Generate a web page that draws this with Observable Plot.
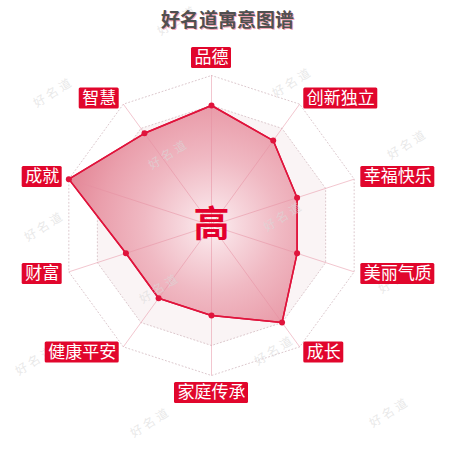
<!DOCTYPE html>
<html><head><meta charset="utf-8">
<script src="https://cdn.jsdelivr.net/npm/d3@7"></script>
<script src="https://cdn.jsdelivr.net/npm/@observablehq/plot@0.6"></script>
<style>
body{margin:0;background:#fff;}
#chart svg{display:block;font-family:"Noto Sans CJK SC","Noto Sans",sans-serif;}
</style>
</head><body><div id="chart"></div>
<script>
const title = "好名道寓意图谱";
const dimensions = ["品德","创新独立","幸福快乐","美丽气质","成长","家庭传承","健康平安","财富","成就","智慧"];
const scores = [80,70,60,60,80,60,60,60,100,76];
const levels = [20,40,60,80,100];
const maxScore = 100;
const grade = "高";
const watermark = "好名道";

const W = 450, H = 450, U = 150;           // pixels per unit radius
const CX = 211, CY = 225;                  // chart centre in pixels
const n = dimensions.length;
const ang = i => 2 * Math.PI * i / n;
const px = (i, v) => Math.sin(ang(i)) * v / maxScore;
const py = (i, v) => Math.cos(ang(i)) * v / maxScore;

const area = dimensions.map((d, i) => ({dim: d, x: px(i, scores[i]), y: py(i, scores[i])}));
const rings = levels.flatMap(l => dimensions.map((d, i) => ({level: l, x: px(i, l), y: py(i, l)})));
const spokes = dimensions.map((d, i) => ({x1: 0, y1: 0, x2: px(i, maxScore), y2: py(i, maxScore)}));

// label boxes
const fs = 17, padX = 3, boxH = 21, labelR = 157 / U;
const labels = dimensions.map((d, i) => {
  const s = Math.sin(ang(i)), c = Math.cos(ang(i));
  const ax = s * labelR, ay = c * labelR;
  const w = (d.length * fs + 2 * padX) / U, h = boxH / U;
  let x1, x2, y1, y2;
  if (Math.abs(s) < 0.01) {
    x1 = ax - w / 2; x2 = ax + w / 2;
    if (c > 0) { y1 = ay; y2 = ay + h; } else { y2 = ay; y1 = ay - h; }
  } else {
    if (s > 0) { x1 = ax; x2 = ax + w; } else { x2 = ax; x1 = ax - w; }
    y1 = ay - h / 2; y2 = ay + h / 2;
  }
  return {dim: d, x1, x2, y1, y2, cx: (x1 + x2) / 2, cy: (y1 + y2) / 2};
});

const bandFill = {100: "#ffffff", 80: "#faf4f5", 60: "#ffffff", 40: "#faf4f5", 20: "#ffffff"};
const areaMarker = "#eaa0ad";

const NS = "http://www.w3.org/2000/svg";
const defsMark = () => {
  const d = document.createElementNS(NS, "defs");
  const g = document.createElementNS(NS, "radialGradient");
  g.setAttribute("id", "radarGrad");
  g.setAttribute("gradientUnits", "userSpaceOnUse");
  g.setAttribute("cx", CX); g.setAttribute("cy", CY); g.setAttribute("r", U);
  [[0, "#fcf0f2"], [0.18, "#f7d8de"], [0.45, "#f0b9c3"], [0.75, "#ea9fac"], [1, "#e38595"]].forEach(([o, c]) => {
    const s = document.createElementNS(NS, "stop");
    s.setAttribute("offset", o); s.setAttribute("stop-color", c);
    g.appendChild(s);
  });
  d.appendChild(g);
  return d;
};

const watermarkMark = () => {
  const g = document.createElementNS(NS, "g");
  const o = [54, 93], a = [124, -72], b = [-9, 134];
  for (let i = -2; i <= 5; i++) for (let j = -2; j <= 5; j++) {
    const x = o[0] + a[0] * i + b[0] * j, y = o[1] + a[1] * i + b[1] * j;
    if (x < 25 || x > W - 25 || y < 14 || y > H - 14) continue;
    const t = document.createElementNS(NS, "text");
    t.setAttribute("transform", `translate(${x},${y}) rotate(-32)`);
    t.setAttribute("text-anchor", "middle");
    t.setAttribute("dominant-baseline", "middle");
    t.setAttribute("font-size", "12");
    t.setAttribute("letter-spacing", "3");
    t.setAttribute("fill", "#d9d9d9");
    t.setAttribute("fill-opacity", "0.6");
    t.textContent = watermark;
    g.appendChild(t);
  }
  return g;
};

const marks = [
  defsMark,
  ...levels.slice().reverse().map(l => Plot.line(rings.filter(r => r.level === l), {
    x: "x", y: "y", curve: "linear-closed", fill: bandFill[l], stroke: bandFill[l], strokeWidth: 0.5
  })),
  Plot.line(rings, {x: "x", y: "y", z: "level", curve: "linear-closed", stroke: "#dcc8cd", strokeWidth: 1, strokeDasharray: "1,2.5"}),
  Plot.line(area, {x: "x", y: "y", curve: "linear-closed", fill: areaMarker, stroke: "#e0143c", strokeWidth: 1.5}),
  Plot.link(spokes, {x1: "x1", y1: "y1", x2: "x2", y2: "y2", stroke: "#e58ea0", strokeOpacity: 0.5, strokeWidth: 1}),
  Plot.line(area, {x: "x", y: "y", curve: "linear-closed", stroke: "#e0143c", strokeWidth: 1.5}),
  Plot.dot(area, {x: "x", y: "y", r: 3, fill: "#e0143c", stroke: "none"}),
  Plot.text([{x: 0, y: 0, t: grade}], {x: "x", y: "y", text: "t", fontSize: 36, fontWeight: "bold", fill: "#e3002d", fontFamily: "Noto Sans CJK SC"}),
  watermarkMark,
  Plot.rect(labels, {x1: "x1", x2: "x2", y1: "y1", y2: "y2", fill: "#e1062c", rx: 1.5}),
  Plot.text(labels, {x: "cx", y: "cy", text: "dim", fill: "white", fontSize: fs, fontFamily: "Noto Sans CJK SC"}),
  Plot.text([title], {frameAnchor: "top", dx: 3, dy: 14, text: d => d, fontSize: 19, fontWeight: "bold", fill: "#f3a5b5", fontFamily: "Noto Sans CJK SC"}),
  Plot.text([title], {frameAnchor: "top", dx: 2, dy: 13, text: d => d, fontSize: 19, fontWeight: "bold", fill: "#505050", fontFamily: "Noto Sans CJK SC"})
];

const chart = Plot.plot({
  width: W, height: H, margin: 0,
  x: {domain: [-CX / U, (W - CX) / U], axis: null},
  y: {domain: [-(H - CY) / U, CY / U], axis: null},
  style: {background: "#fff", fontFamily: "Noto Sans CJK SC"},
  marks
});
chart.querySelectorAll(`[fill="${areaMarker}"]`).forEach(el => el.setAttribute("fill", "url(#radarGrad)"));
document.getElementById("chart").appendChild(chart);
</script>
</body></html>
